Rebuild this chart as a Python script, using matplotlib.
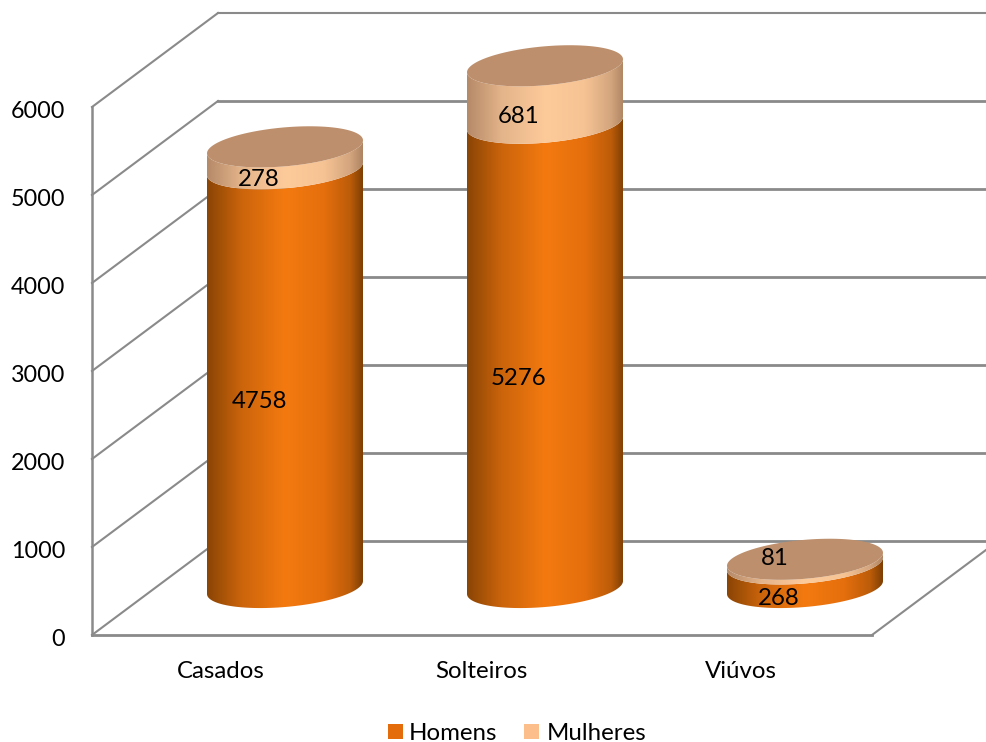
import matplotlib
matplotlib.use('Agg')
import matplotlib.pyplot as plt
import numpy as np
from matplotlib.colors import LinearSegmentedColormap
from matplotlib.patches import PathPatch, Rectangle
from matplotlib.path import Path

categorias = ['Casados', 'Solteiros', 'Viúvos']
homens = [4758, 5276, 268]
mulheres = [278, 681, 81]
ticks = [0, 1000, 2000, 3000, 4000, 5000, 6000]

plt.rcParams['font.family'] = 'Lato'
FS = 17.3

W, H = 987, 742
PX_Y = 0.088   # px per unit
PX_X = 260.0   # px per category
X0, Y0 = 285.0, 635.0

fig = plt.figure(figsize=(W / 100, H / 100), dpi=100)
ax = fig.add_axes([0, 0, 1, 1])
ax.set_xlim(-X0 / PX_X, (W - X0) / PX_X)
ax.set_ylim((Y0 - H) / PX_Y, Y0 / PX_Y)
ax.axis('off')

# 3d box offsets, in data units
x_front = (92 - X0) / PX_X
x_back = (218 - X0) / PX_X
x_right = (872 - X0) / PX_X
dx = x_back - x_front
dy = 94 / PX_Y
grid = '#8a8a8a'

for t in ticks:
    ax.plot([x_front, x_back], [t, t + dy], color=grid, lw=1.5, zorder=1)
    ax.plot([x_back, x_right + dx], [t + dy, t + dy], color=grid, lw=1.5 if t == 6000 else 2.0, zorder=1)
    ax.text(x_front - 27 / PX_X, t - 4.5 / PX_Y, str(t), ha='right', va='center', fontsize=16.8, color='black')
ax.plot([x_front, x_front], [0, 6000], color=grid, lw=1.8, zorder=1)
ax.plot([x_front, x_right], [0, 0], color=grid, lw=2.0, zorder=1)
ax.plot([x_right, x_right + dx], [0, dy], color=grid, lw=1.5, zorder=1)

# cylinders
A = 78 / PX_X
B = 19.5 / PX_Y
K = 6.5 / PX_Y
DEPTH = 45 / PX_Y
LIFT = 2.5 / PX_Y

laranja = LinearSegmentedColormap.from_list('l', [(0, '#8a4505'), (0.22, '#cb640b'), (0.5, '#f47a10'), (0.75, '#e56f0d'),
                                                  (0.92, '#bc5c09'), (1, '#7e3f04')])
claro = LinearSegmentedColormap.from_list('c', [(0, '#b58a68'), (0.22, '#e4b48a'), (0.5, '#fdca9a'), (0.75, '#f6c394'),
                                                (0.92, '#d3a57e'), (1, '#ae8462')])


def borda(c, v, t):
    return c + A * np.cos(t), v + DEPTH + B * np.sin(t) + K * np.cos(t)


def lado(c, v0, v1, cmap, z, lift_top):
    t = np.linspace(np.pi, 2 * np.pi, 80)
    x0, y0 = borda(c, v0 + LIFT, t)
    x1, y1 = borda(c, v1 + lift_top, t[::-1])
    verts = np.column_stack([np.r_[x0, x1], np.r_[y0, y1]])
    patch = PathPatch(Path(np.vstack([verts, verts[0]]), closed=True), fc='none', ec='none', zorder=z)
    ax.add_patch(patch)
    grad = np.linspace(0, 1, 256)[None, :]
    im = ax.imshow(grad, cmap=cmap, aspect='auto', extent=[c - A, c + A, y0.min() - 50, y1.max() + 50],
                   zorder=z, interpolation='bilinear')
    im.set_clip_path(patch)


for i, cat in enumerate(categorias):
    h, m = homens[i], mulheres[i]
    lado(i, 0, h, laranja, 3, LIFT)
    lado(i, h, h + m, claro, 4, 0)
    t = np.linspace(0, 2 * np.pi, 160)
    x, y = borda(i, h + m, t)
    ax.fill(x, y, color='#bd8f6c', lw=0, zorder=5)
    ax.text(i - 26 / PX_X, h / 2 + 24.5 / PX_Y, str(h), ha='center', va='center', fontsize=FS, zorder=6)
    extra = 25 if cat == 'Viúvos' else 0
    ax.text(i - (26 + (4 if extra else 0)) / PX_X, h + m / 2 + (24.5 + extra) / PX_Y, str(m), ha='center', va='center',
            fontsize=FS, zorder=6)
    ax.text(i - 64 / PX_X, -37 / PX_Y, cat, ha='center', va='center', fontsize=FS)

# legend
ax.add_patch(Rectangle(((388 - X0) / PX_X, (Y0 - 739) / PX_Y), 15 / PX_X, 15 / PX_Y, fc='#e46c0a', ec='none'))
ax.add_patch(Rectangle(((524 - X0) / PX_X, (Y0 - 739) / PX_Y), 15 / PX_X, 15 / PX_Y, fc='#fcbf8c', ec='none'))
ax.text((409 - X0) / PX_X, (Y0 - 733) / PX_Y, 'Homens', ha='left', va='center', fontsize=FS)
ax.text((547 - X0) / PX_X, (Y0 - 733) / PX_Y, 'Mulheres', ha='left', va='center', fontsize=FS)

ax.set_xlim(-X0 / PX_X, (W - X0) / PX_X)
ax.set_ylim((Y0 - H) / PX_Y, Y0 / PX_Y)
fig.savefig('out.png', dpi=100)
